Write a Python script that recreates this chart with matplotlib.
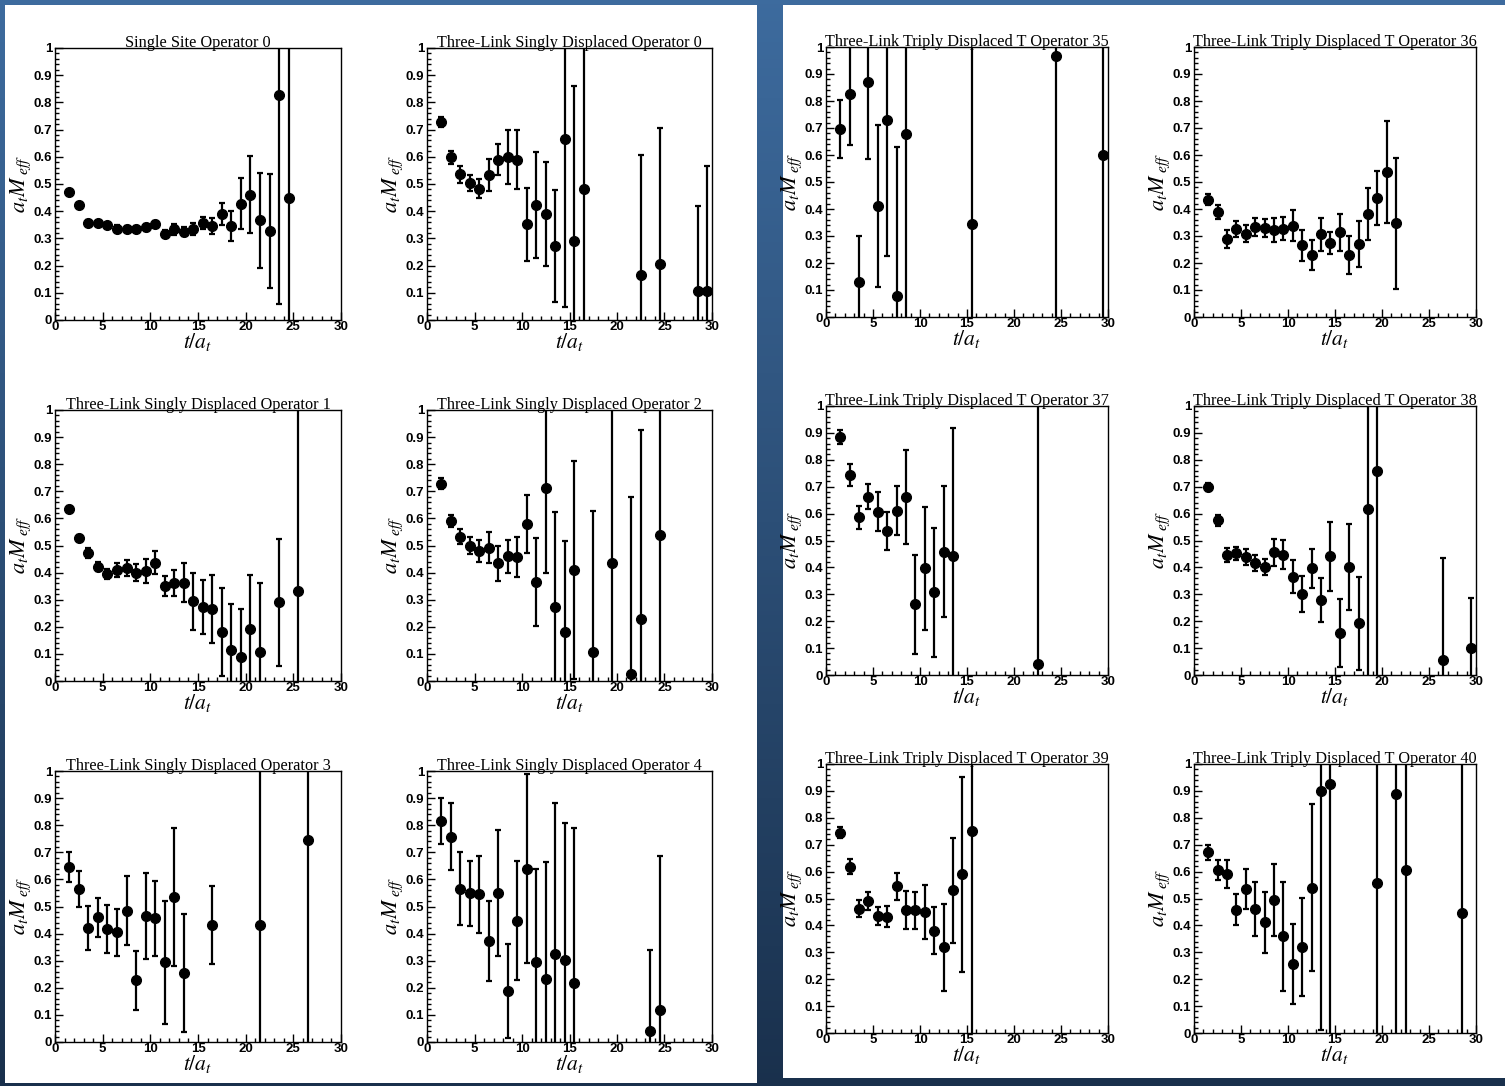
import numpy as np
import matplotlib
matplotlib.use("Agg")
import matplotlib.pyplot as plt
from matplotlib.patches import Rectangle
from matplotlib.ticker import MultipleLocator, FuncFormatter
from matplotlib.transforms import offset_copy
from matplotlib.font_manager import FontProperties

plt.rcParams["mathtext.fontset"] = "stix"

W, H = 1505, 1086

# ---- effective-mass data: time slice, a_t M_eff, error ----
t_ss0 = [1.5, 2.5, 3.5, 4.5, 5.5, 6.5, 7.5, 8.5, 9.5, 10.5, 11.5, 12.5, 13.5, 14.5,
         15.5, 16.5, 17.5, 18.5, 19.5, 20.5, 21.5, 22.5, 23.5, 24.5]
m_ss0 = [0.469, 0.422, 0.358, 0.356, 0.348, 0.336, 0.334, 0.334, 0.341, 0.353, 0.317, 0.334,
         0.324, 0.336, 0.358, 0.346, 0.390, 0.346, 0.427, 0.461, 0.366, 0.328, 0.826, 0.450]
e_ss0 = [0.006, 0.007, 0.010, 0.008, 0.010, 0.012, 0.012, 0.012, 0.013, 0.010, 0.013, 0.020,
         0.017, 0.022, 0.022, 0.030, 0.041, 0.055, 0.094, 0.142, 0.173, 0.210, 0.766, 0.620]

t_sd0 = [1.5, 2.5, 3.5, 4.5, 5.5, 6.5, 7.5, 8.5, 9.5, 10.5, 11.5, 12.5, 13.5, 14.5, 15.5,
         16.5, 22.5, 24.5, 28.5, 29.5]
m_sd0 = [0.728, 0.598, 0.535, 0.503, 0.483, 0.533, 0.590, 0.600, 0.590, 0.352, 0.422, 0.390,
         0.272, 0.665, 0.291, 0.481, 0.166, 0.205, 0.107, 0.107]
e_sd0 = [0.018, 0.023, 0.032, 0.030, 0.036, 0.058, 0.057, 0.099, 0.108, 0.135, 0.195, 0.192,
         0.205, 0.618, 0.570, 0.620, 0.440, 0.500, 0.313, 0.460]

t_sd1 = [1.5, 2.5, 3.5, 4.5, 5.5, 6.5, 7.5, 8.5, 9.5, 10.5, 11.5, 12.5, 13.5, 14.5, 15.5,
         16.5, 17.5, 18.5, 19.5, 20.5, 21.5, 23.5, 25.5]
m_sd1 = [0.636, 0.528, 0.471, 0.422, 0.395, 0.410, 0.417, 0.400, 0.405, 0.437, 0.351, 0.361,
         0.363, 0.295, 0.272, 0.265, 0.182, 0.115, 0.087, 0.193, 0.108, 0.290, 0.332]
e_sd1 = [0.010, 0.012, 0.018, 0.017, 0.018, 0.026, 0.030, 0.031, 0.044, 0.044, 0.037, 0.049,
         0.071, 0.105, 0.100, 0.125, 0.162, 0.168, 0.178, 0.197, 0.252, 0.233, 0.700]

t_sd2 = [1.5, 2.5, 3.5, 4.5, 5.5, 6.5, 7.5, 8.5, 9.5, 10.5, 11.5, 12.5, 13.5, 14.5, 15.5,
         17.5, 19.5, 21.5, 22.5, 24.5]
m_sd2 = [0.728, 0.591, 0.533, 0.500, 0.479, 0.492, 0.435, 0.460, 0.457, 0.580, 0.366, 0.714,
         0.274, 0.182, 0.408, 0.108, 0.435, 0.027, 0.228, 0.537]
e_sd2 = [0.020, 0.022, 0.027, 0.032, 0.040, 0.058, 0.065, 0.062, 0.075, 0.108, 0.163, 0.316,
         0.348, 0.335, 0.402, 0.519, 0.700, 0.653, 0.699, 0.700]

t_sd3 = [1.5, 2.5, 3.5, 4.5, 5.5, 6.5, 7.5, 8.5, 9.5, 10.5, 11.5, 12.5, 13.5, 16.5, 21.5, 26.5]
m_sd3 = [0.646, 0.565, 0.420, 0.461, 0.417, 0.405, 0.485, 0.227, 0.464, 0.457, 0.294, 0.536,
         0.256, 0.432, 0.430, 0.745]
e_sd3 = [0.055, 0.067, 0.082, 0.072, 0.088, 0.087, 0.127, 0.108, 0.158, 0.138, 0.228, 0.254,
         0.218, 0.145, 0.700, 0.800]

t_sd4 = [1.5, 2.5, 3.5, 4.5, 5.5, 6.5, 7.5, 8.5, 9.5, 10.5, 11.5, 12.5, 13.5, 14.5, 15.5,
         23.5, 24.5]
m_sd4 = [0.815, 0.757, 0.566, 0.548, 0.545, 0.374, 0.549, 0.187, 0.448, 0.640, 0.297, 0.234,
         0.326, 0.303, 0.217, 0.040, 0.118]
e_sd4 = [0.085, 0.124, 0.135, 0.120, 0.142, 0.148, 0.232, 0.174, 0.219, 0.350, 0.341, 0.430,
         0.556, 0.505, 0.573, 0.300, 0.568]

t_td35 = [1.5, 2.5, 3.5, 4.5, 5.5, 6.5, 7.5, 8.5, 15.5, 24.5, 29.5]
m_td35 = [0.696, 0.825, 0.130, 0.871, 0.412, 0.730, 0.078, 0.676, 0.344, 0.968, 0.599]
e_td35 = [0.107, 0.188, 0.170, 0.287, 0.300, 0.504, 0.550, 0.750, 0.750, 1.000, 0.700]

t_td36 = [1.5, 2.5, 3.5, 4.5, 5.5, 6.5, 7.5, 8.5, 9.5, 10.5, 11.5, 12.5, 13.5, 14.5, 15.5,
          16.5, 17.5, 18.5, 19.5, 20.5, 21.5]
m_td36 = [0.435, 0.388, 0.290, 0.326, 0.308, 0.333, 0.330, 0.322, 0.327, 0.338, 0.266, 0.230,
          0.306, 0.275, 0.313, 0.230, 0.270, 0.381, 0.440, 0.537, 0.347]
e_td36 = [0.022, 0.025, 0.033, 0.029, 0.031, 0.032, 0.033, 0.045, 0.043, 0.057, 0.058, 0.055,
          0.062, 0.041, 0.068, 0.069, 0.085, 0.096, 0.100, 0.190, 0.243]

t_td37 = [1.5, 2.5, 3.5, 4.5, 5.5, 6.5, 7.5, 8.5, 9.5, 10.5, 11.5, 12.5, 13.5, 22.5]
m_td37 = [0.884, 0.744, 0.586, 0.663, 0.607, 0.535, 0.611, 0.662, 0.263, 0.396, 0.308, 0.458,
          0.442, 0.041]
e_td37 = [0.027, 0.041, 0.042, 0.047, 0.073, 0.071, 0.092, 0.174, 0.184, 0.227, 0.240, 0.243,
          0.478, 1.000]

t_td38 = [1.5, 2.5, 3.5, 4.5, 5.5, 6.5, 7.5, 8.5, 9.5, 10.5, 11.5, 12.5, 13.5, 14.5, 15.5,
          16.5, 17.5, 18.5, 19.5, 26.5, 29.5]
m_td38 = [0.699, 0.575, 0.446, 0.452, 0.440, 0.415, 0.400, 0.456, 0.447, 0.366, 0.302, 0.397,
          0.280, 0.441, 0.156, 0.402, 0.192, 0.617, 0.760, 0.055, 0.100]
e_td38 = [0.016, 0.020, 0.025, 0.025, 0.030, 0.030, 0.030, 0.050, 0.054, 0.060, 0.066, 0.072,
          0.082, 0.128, 0.125, 0.160, 0.174, 0.700, 0.800, 0.381, 0.188]

t_td39 = [1.5, 2.5, 3.5, 4.5, 5.5, 6.5, 7.5, 8.5, 9.5, 10.5, 11.5, 12.5, 13.5, 14.5, 15.5]
m_td39 = [0.745, 0.618, 0.462, 0.492, 0.435, 0.433, 0.545, 0.457, 0.456, 0.451, 0.381, 0.318,
          0.530, 0.590, 0.750]
e_td39 = [0.020, 0.028, 0.032, 0.033, 0.032, 0.038, 0.050, 0.070, 0.070, 0.100, 0.088, 0.163,
          0.196, 0.363, 0.800]

t_td40 = [1.5, 2.5, 3.5, 4.5, 5.5, 6.5, 7.5, 8.5, 9.5, 10.5, 11.5, 12.5, 13.5, 14.5, 19.5,
          21.5, 22.5, 28.5]
m_td40 = [0.672, 0.606, 0.590, 0.458, 0.535, 0.460, 0.412, 0.494, 0.360, 0.256, 0.321, 0.540,
          0.900, 0.925, 0.557, 0.888, 0.605, 0.447]
e_td40 = [0.028, 0.038, 0.052, 0.058, 0.074, 0.100, 0.113, 0.133, 0.203, 0.148, 0.182, 0.310,
          0.890, 1.000, 0.700, 0.900, 0.700, 0.700]

titles = [
    "Single Site Operator 0", "Three-Link Singly Displaced Operator 0",
    "Three-Link Triply Displaced T Operator 35", "Three-Link Triply Displaced T Operator 36",
    "Three-Link Singly Displaced Operator 1", "Three-Link Singly Displaced Operator 2",
    "Three-Link Triply Displaced T Operator 37", "Three-Link Triply Displaced T Operator 38",
    "Three-Link Singly Displaced Operator 3", "Three-Link Singly Displaced Operator 4",
    "Three-Link Triply Displaced T Operator 39", "Three-Link Triply Displaced T Operator 40",
]
series = [
    (t_ss0, m_ss0, e_ss0), (t_sd0, m_sd0, e_sd0), (t_td35, m_td35, e_td35), (t_td36, m_td36, e_td36),
    (t_sd1, m_sd1, e_sd1), (t_sd2, m_sd2, e_sd2), (t_td37, m_td37, e_td37), (t_td38, m_td38, e_td38),
    (t_sd3, m_sd3, e_sd3), (t_sd4, m_sd4, e_sd4), (t_td39, m_td39, e_td39), (t_td40, m_td40, e_td40),
]

# panel frames in pixels: (x0, x1, y0, y1), top-left origin
cols_left = [(55, 341), (427, 712)]
rows_left = [(48, 320), (410, 681), (771, 1042)]
cols_right = [(826, 1108), (1194, 1476)]
rows_right = [(47, 317), (406, 675), (764, 1033)]
frames = []
for r in range(3):
    for c in cols_left:
        frames.append((c[0], c[1], rows_left[r][0], rows_left[r][1]))
    for c in cols_right:
        frames.append((c[0], c[1], rows_right[r][0], rows_right[r][1]))

fig = plt.figure(figsize=(W / 100, H / 100), dpi=100)

# slide background: blue gradient with two white boards
bg = fig.add_axes([0, 0, 1, 1])
g = np.linspace(0, 1, 256)[:, None, None]
top_c = np.array([0.24, 0.42, 0.62])
bot_c = np.array([0.10, 0.19, 0.30])
img = top_c + (bot_c - top_c) * g
bg.imshow(img, aspect="auto", extent=[0, 1, 0, 1], origin="upper")
bg.add_patch(Rectangle((5 / W, 1 - 1083 / H), 752 / W, 1078 / H, color="white", lw=0))
bg.add_patch(Rectangle((783 / W, 1 - 1078 / H), 722 / W, 1073 / H, color="white", lw=0))
bg.set_xlim(0, 1)
bg.set_ylim(0, 1)
bg.axis("off")

tick_fp = FontProperties(family="Liberation Sans", weight="bold", size=9.5)

for (x0, x1, y0, y1), title, (t, m, e) in zip(frames, titles, series):
    ax = fig.add_axes([x0 / W, 1 - y1 / H, (x1 - x0) / W, (y1 - y0) / H])
    ax.errorbar(t, m, yerr=e, fmt="o", color="black", ms=7, elinewidth=1.6,
                capsize=2.5, capthick=1.6)
    ax.set_xlim(0, 30)
    ax.set_ylim(0, 1)
    ax.xaxis.set_major_locator(MultipleLocator(5))
    ax.xaxis.set_minor_locator(MultipleLocator(1))
    ax.yaxis.set_major_locator(MultipleLocator(0.1))
    ax.yaxis.set_minor_locator(MultipleLocator(0.02))
    fmt = FuncFormatter(lambda v, p: "%g" % round(v, 2))
    ax.xaxis.set_major_formatter(fmt)
    ax.yaxis.set_major_formatter(fmt)
    ax.tick_params(which="both", direction="in", top=False, right=False, width=1)
    ax.tick_params(which="major", length=6)
    ax.tick_params(which="minor", length=3)
    ax.tick_params(axis="x", pad=1)
    ax.tick_params(axis="y", pad=2)
    for lab in ax.get_xticklabels() + ax.get_yticklabels():
        lab.set_fontproperties(tick_fp)
    for s in ax.spines.values():
        s.set_linewidth(1.0)
        s.set_color("black")

    ax.text(0.5, 1.0, title, transform=offset_copy(ax.transAxes, fig, x=0, y=1, units="dots"),
            ha="center", va="baseline", family="Liberation Serif", fontsize=11.7)
    ax.text(0.5, 0.0, r"$t/a_t$", transform=offset_copy(ax.transAxes, fig, x=0, y=-22, units="dots"),
            ha="center", va="center", fontsize=15.5)
    ax.text(0.0, 0.5, r"$a_t M_{\;eff}$", transform=offset_copy(ax.transAxes, fig, x=-34, y=0, units="dots"),
            ha="center", va="center", rotation=90, fontsize=16)

fig.savefig("out.png", dpi=100)
